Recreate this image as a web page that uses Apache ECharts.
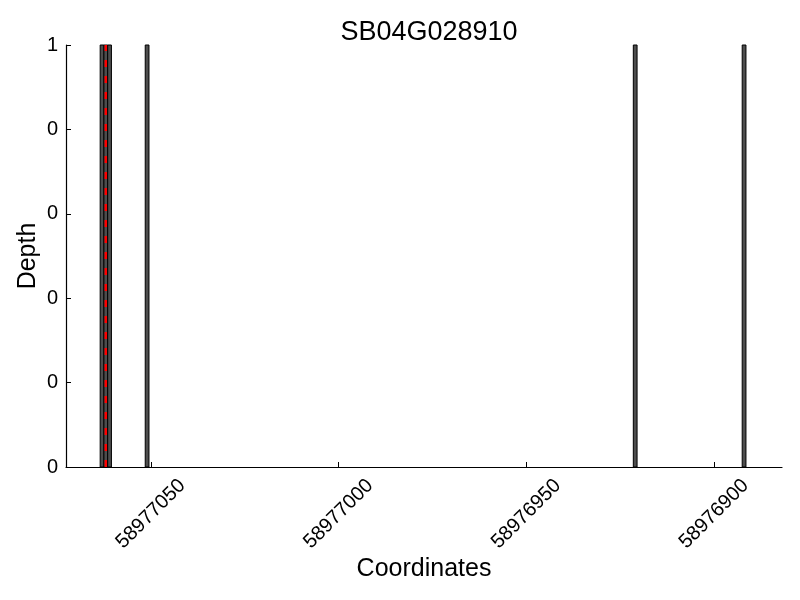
<!DOCTYPE html>
<html>
<head>
<meta charset="utf-8">
<script src="https://cdn.jsdelivr.net/npm/echarts@6/dist/echarts.min.js"></script>
<style>html,body{margin:0;padding:0;background:#fff}#c{width:800px;height:600px}</style>
</head>
<body>
<div id="c"></div>
<script>
const titleText = 'SB04G028910';
const coordinates = [58977063, 58977062, 58977061, 58977051, 58976921, 58976892];
const depths = [1, 1, 1, 1, 1, 1];
const markerCoordinate = [58977062];
const xTickValues = [58977050, 58977000, 58976950, 58976900];
const yTickValues = [0, 0.2, 0.4, 0.6, 0.8, 1];

const barData = coordinates.map((c, i) => [c, depths[i]]);
const markerData = [];
markerCoordinate.forEach(c => { markerData.push([c, 0]); markerData.push([c, 1]); });

const font = 'Liberation Sans, Arial, sans-serif';
const chart = echarts.init(document.getElementById('c'));
chart.setOption({
  animation: false,
  title: { text: titleText, left: 424, textAlign: 'center', top: 14, textStyle: { fontFamily: font, fontSize: 27, fontWeight: 'normal', color: '#000' } },
  grid: { left: 66, right: 18, top: 45, bottom: 133, containLabel: false },
  xAxis: {
    type: 'value', inverse: true, min: 58976881.9, max: 58977072.6,
    name: 'Coordinates', nameLocation: 'middle', nameGap: 90, nameMoveOverlap: false,
    nameTextStyle: { fontFamily: font, fontSize: 25, color: '#000' },
    axisLine: { show: true, lineStyle: { color: '#000', width: 1.2 } },
    axisTick: { show: true, inside: true, length: 5, customValues: xTickValues, lineStyle: { color: '#000' } },
    axisLabel: { customValues: xTickValues, rotate: 45, align: 'center', verticalAlign: 'middle', margin: 47,
      fontFamily: font, fontSize: 20, color: '#000', formatter: v => String(Math.round(v)) },
    splitLine: { show: false }
  },
  yAxis: {
    type: 'value', min: 0, max: 1, interval: 0.2,
    name: 'Depth', nameLocation: 'middle', nameGap: 25, nameMoveOverlap: false,
    nameTextStyle: { fontFamily: font, fontSize: 25, color: '#000' },
    axisLine: { show: true, lineStyle: { color: '#000', width: 1.2 } },
    axisTick: { show: true, inside: true, length: 5, lineStyle: { color: '#000' } },
    axisLabel: { fontFamily: font, fontSize: 20, color: '#000', margin: 8, formatter: v => String(Math.floor(v + 1e-9)) },
    splitLine: { show: false }
  },
  series: [
    {
      type: 'custom',
      data: barData,
      encode: { x: 0, y: 1 },
      renderItem: function (params, api) {
        const x = api.value(0), y = api.value(1);
        const p1 = api.coord([x + 0.5, y]);
        const p2 = api.coord([x - 0.5, 0]);
        const left = Math.min(p1[0], p2[0]);
        return {
          type: 'rect',
          shape: { x: left, y: p1[1], width: Math.abs(p2[0] - p1[0]), height: p2[1] - p1[1] },
          style: { fill: '#4d4d4d', stroke: '#000', lineWidth: 1 }
        };
      }
    },
    {
      type: 'line',
      data: markerData,
      symbol: 'none',
      lineStyle: { color: '#ff0000', width: 2.5, type: [7, 9] },
      z: 5
    }
  ]
});
</script>
</body>
</html>
